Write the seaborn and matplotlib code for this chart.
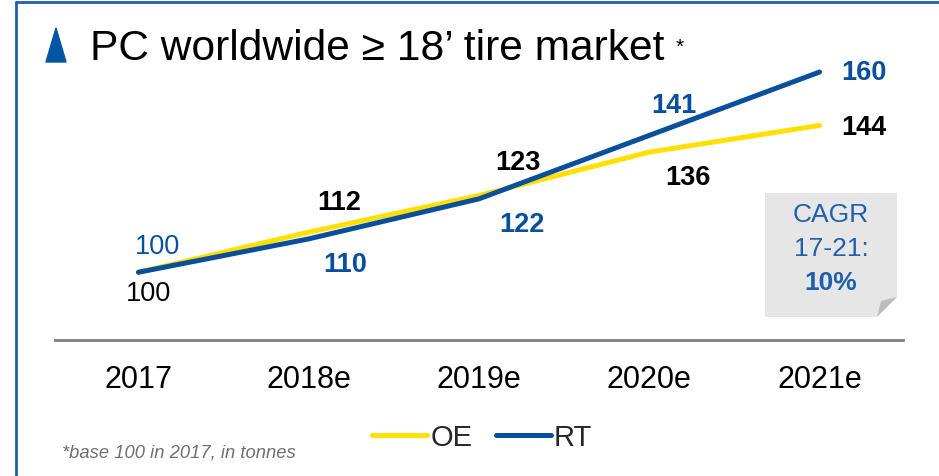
import matplotlib
matplotlib.use("Agg")
import matplotlib.pyplot as plt
from matplotlib.patches import Polygon
from matplotlib.lines import Line2D
import pandas as pd
import seaborn as sns

# data (index base 100 in 2017)
years = ['2017', '2018e', '2019e', '2020e', '2021e']
oe = [100, 112, 123, 136, 144]
rt = [100, 110, 122, 141, 160]

BLUE = '#0A4F9E'
YELLOW = '#FFE000'
FRAME = '#1F5FAD'

sns.set_theme(style='white')
plt.rcParams['font.family'] = ['Liberation Sans', 'DejaVu Sans']

df = pd.DataFrame({
    'x': list(range(len(years))) * 2,
    'value': oe + rt,
    'series': ['OE'] * len(oe) + ['RT'] * len(rt),
})

W, H = 939, 477
fig = plt.figure(figsize=(W / 100, H / 100), dpi=100)
ax = fig.add_axes([55 / W, 1 - 341 / H, (903 - 55) / W, (341 - 60) / H])

sns.lineplot(data=df, x='x', y='value', hue='series',
             palette={'OE': YELLOW, 'RT': BLUE}, linewidth=3.6,
             solid_capstyle='round', legend=False, ax=ax)

ax.set_xlim(-0.49, 4.49)
ax.set_ylim(79.7, 163.9)
ax.set_xticks(range(len(years)))
ax.set_xticklabels(years, fontsize=22, color='black')
ax.tick_params(axis='x', length=0, pad=17)
ax.set_yticks([])
ax.set_xlabel('')
ax.set_ylabel('')
for s in ['top', 'left', 'right']:
    ax.spines[s].set_visible(False)
ax.spines['bottom'].set_color('#808080')
ax.spines['bottom'].set_linewidth(2)

# data labels: (offset in points)
oe_off = [(7, -15), (22, 22), (28, 24), (28, -18), (32, -1)]
rt_off = [(14, 19), (26, -18), (31, -18), (18, 22), (32, 0)]
for i in range(len(years)):
    w = 'normal' if i == 0 else 'bold'
    ax.annotate(str(oe[i]), (i, oe[i]), xytext=oe_off[i], textcoords='offset points',
                ha='center', va='center', fontsize=19.5, fontweight=w, color='black')
    ax.annotate(str(rt[i]), (i, rt[i]), xytext=rt_off[i], textcoords='offset points',
                ha='center', va='center', fontsize=19.5, fontweight=w, color=BLUE)

def px(x, y):
    return (x / W, 1 - y / H)

# frame lines
fig.add_artist(Line2D([16 / W, 16 / W], [1 - 3 / H, 0], color=FRAME, lw=2))
fig.add_artist(Line2D([16 / W, 1], [1 - 3 / H, 1 - 3 / H], color=FRAME, lw=2))

# title with triangle bullet
fig.add_artist(Polygon([px(46, 63), px(66, 63), px(56, 29)], closed=True,
                       color='#0055A4', transform=fig.transFigure))
fig.text(90 / W, 1 - 49 / H, 'PC worldwide \u2265 18\u2019 tire market', fontsize=30.6,
         va='center', ha='left', color='black')
fig.text(676 / W, 1 - 47 / H, '*', fontsize=15, va='center', ha='left', color='black')

# CAGR note box with folded corner
fig.add_artist(Polygon([px(765, 194), px(897, 194), px(897, 298), px(877, 318), px(765, 318)],
                       closed=True, facecolor='#E6E6E6', edgecolor='none',
                       transform=fig.transFigure))
fig.add_artist(Polygon([px(897, 298), px(877, 318), px(881, 302)], closed=True,
                       facecolor='#BDBDBD', edgecolor='none', transform=fig.transFigure))
fig.text(831 / W, 1 - 215 / H, 'CAGR', fontsize=19, ha='center', va='center', color=FRAME)
fig.text(831 / W, 1 - 249 / H, '17-21:', fontsize=19, ha='center', va='center', color=FRAME)
fig.text(831 / W, 1 - 283 / H, '10%', fontsize=19, fontweight='bold', ha='center',
         va='center', color=FRAME)

# legend
handles = [Line2D([], [], color=YELLOW, lw=3.6), Line2D([], [], color=BLUE, lw=3.6)]
fig.legend(handles, ['OE', 'RT'], loc='center', bbox_to_anchor=(482 / W, 1 - 438 / H),
           ncol=2, frameon=False, fontsize=21, handlelength=1.9, handletextpad=0.1,
           columnspacing=0.8)

# footnote
fig.text(62 / W, 1 - 453 / H, '*base 100 in 2017, in tonnes', fontsize=13.2, style='italic',
         color='#707070', ha='left', va='center')

fig.savefig('out.png', dpi=100)
